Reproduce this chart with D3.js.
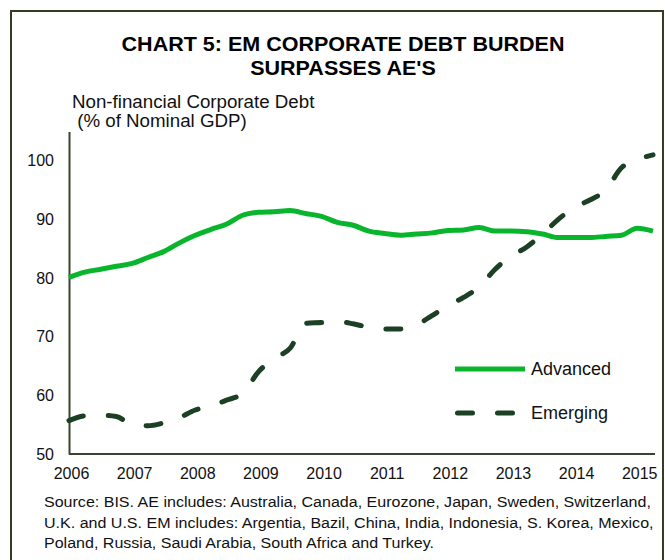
<!DOCTYPE html>
<html>
<head>
<meta charset="utf-8">
<script src="https://cdn.jsdelivr.net/npm/d3@7"></script>
<style>
  html, body { margin: 0; padding: 0; background: #fff; }
  svg { display: block; font-family: "Liberation Sans", Arial, sans-serif; }
</style>
</head>
<body>
<svg id="chart" width="665" height="560"></svg>
<script>
// Quarterly observations, 2006 Q1 to 2015 Q2 (% of nominal GDP)
const quarters = d3.range(38);
const yearLabels = ["2006","2007","2008","2009","2010","2011","2012","2013","2014","2015"];
const yTicks = [50, 60, 70, 80, 90, 100];

const advanced = [
  80.1, 81.0, 81.5, 82.0, 82.5, 83.5, 84.5, 86.0, 87.3, 88.3,
  89.2, 90.7, 91.2, 91.3, 91.5, 91.0, 90.5, 89.5, 89.0, 88.0,
  87.6, 87.3, 87.5, 87.7, 88.1, 88.2, 88.6, 88.0, 88.0, 87.9,
  87.5, 86.9, 86.9, 86.9, 87.1, 87.3, 88.5, 88.0
];
const emerging = [
  55.7, 56.5, 56.6, 56.4, 55.0, 54.8, 55.3, 56.2, 57.5, 58.2,
  59.2, 60.3, 64.0, 66.3, 68.0, 72.3, 72.4, 72.6, 72.2, 71.6,
  71.3, 71.3, 72.0, 73.6, 75.3, 76.7, 78.5, 81.5, 83.7, 85.3,
  87.5, 90.0, 92.0, 93.3, 95.0, 98.8, 100.2, 101.0
];

const seriesNames = ["Advanced", "Emerging"];
const title = ["CHART 5: EM CORPORATE DEBT BURDEN", "SURPASSES AE'S"];
const yTitle = ["Non-financial Corporate Debt", " (% of Nominal GDP)"];
const sourceNote = [
  "Source: BIS. AE includes: Australia, Canada, Eurozone, Japan, Sweden, Switzerland,",
  "U.K. and U.S. EM includes: Argentia, Bazil, China, India, Indonesia, S. Korea, Mexico,",
  "Poland, Russia, Saudi Arabia, South Africa and Turkey."
];

const svg = d3.select("#chart");
const green = "#0ab52e";
const dark = "#1b4023";
const axisColor = "#3a4530";

// outer frame
svg.append("rect")
  .attr("x", 11).attr("y", 11)
  .attr("width", 652).attr("height", 600)
  .attr("fill", "none").attr("stroke", "#323d22").attr("stroke-width", 2);

// title (slightly wide-set lettering)
svg.append("g").selectAll("text").data(title).join("text")
  .attr("transform", (d, i) => `translate(343,${51 + i * 24}) scale(1.05,1)`)
  .attr("text-anchor", "middle")
  .attr("font-size", 20.5).attr("font-weight", "bold").attr("fill", "#000")
  .text(d => d);

// y axis title
svg.append("g").selectAll("text").data(yTitle).join("text")
  .attr("transform", (d, i) => `translate(72,${107.5 + i * 19}) scale(1.07,1)`)
  .attr("font-size", 17.5).attr("fill", "#111")
  .attr("xml:space", "preserve")
  .style("white-space", "pre")
  .text(d => d);

const left = 69, right = 655, bottom = 454;
const x = d3.scaleLinear().domain([0, 37]).range([left, 653]);
const y = d3.scaleLinear().domain([50, 105]).range([bottom, 131.4]);

// y axis
const yAxis = svg.append("g")
  .attr("transform", `translate(${left},0)`)
  .call(d3.axisLeft(y).tickValues(yTicks).tickSize(0).tickPadding(15).tickSizeOuter(0));
yAxis.select(".domain").attr("stroke", axisColor).attr("stroke-width", 2);
yAxis.selectAll("text")
  .attr("font-size", 16).attr("fill", "#111")
  .attr("font-family", "'Liberation Sans', Arial, sans-serif");

// x axis
const xAxis = svg.append("g")
  .attr("transform", `translate(0,${bottom})`)
  .call(d3.axisBottom(x)
    .tickValues(yearLabels.map((d, i) => i * 4))
    .tickFormat((d, i) => yearLabels[i])
    .tickSize(0).tickPadding(14).tickSizeOuter(0));
xAxis.select(".domain").attr("d", `M${left},0H${right}`)
  .attr("stroke", axisColor).attr("stroke-width", 2);
xAxis.selectAll(".tick text")
  .attr("dx", 2)
  .attr("font-size", 16).attr("fill", "#111")
  .attr("font-family", "'Liberation Sans', Arial, sans-serif");

// series lines
const line = d3.line()
  .x((d, i) => x(quarters[i]))
  .y(d => y(d))
  .curve(d3.curveMonotoneX);

svg.append("path")
  .datum(advanced)
  .attr("d", line)
  .attr("fill", "none").attr("stroke", green)
  .attr("stroke-width", 5).attr("stroke-linejoin", "round");

svg.append("path")
  .datum(emerging)
  .attr("d", line)
  .attr("fill", "none").attr("stroke", dark)
  .attr("stroke-width", 5).attr("stroke-linecap", "round")
  .attr("stroke-dasharray", "15,25");

// legend
const legend = svg.append("g");
const legendRows = [
  { name: seriesNames[0], color: green, dash: null, y: 369, x2: 525 },
  { name: seriesNames[1], color: dark, dash: "15,25", y: 413, x2: 512.5 }
];
legendRows.forEach(r => {
  legend.append("line")
    .attr("x1", r.dash ? 457.5 : 455).attr("x2", r.x2)
    .attr("y1", r.y).attr("y2", r.y)
    .attr("stroke", r.color).attr("stroke-width", 5)
    .attr("stroke-linecap", r.dash ? "round" : "butt")
    .attr("stroke-dasharray", r.dash);
  legend.append("text")
    .attr("x", 531).attr("y", r.y + 6)
    .attr("font-size", 18).attr("fill", "#111")
    .text(r.name);
});

// source note
svg.append("g").selectAll("text").data(sourceNote).join("text")
  .attr("transform", (d, i) => `translate(44,${507 + i * 20.5}) scale(1.07,1)`)
  .attr("font-size", 15).attr("fill", "#111")
  .text(d => d);
</script>
</body>
</html>
